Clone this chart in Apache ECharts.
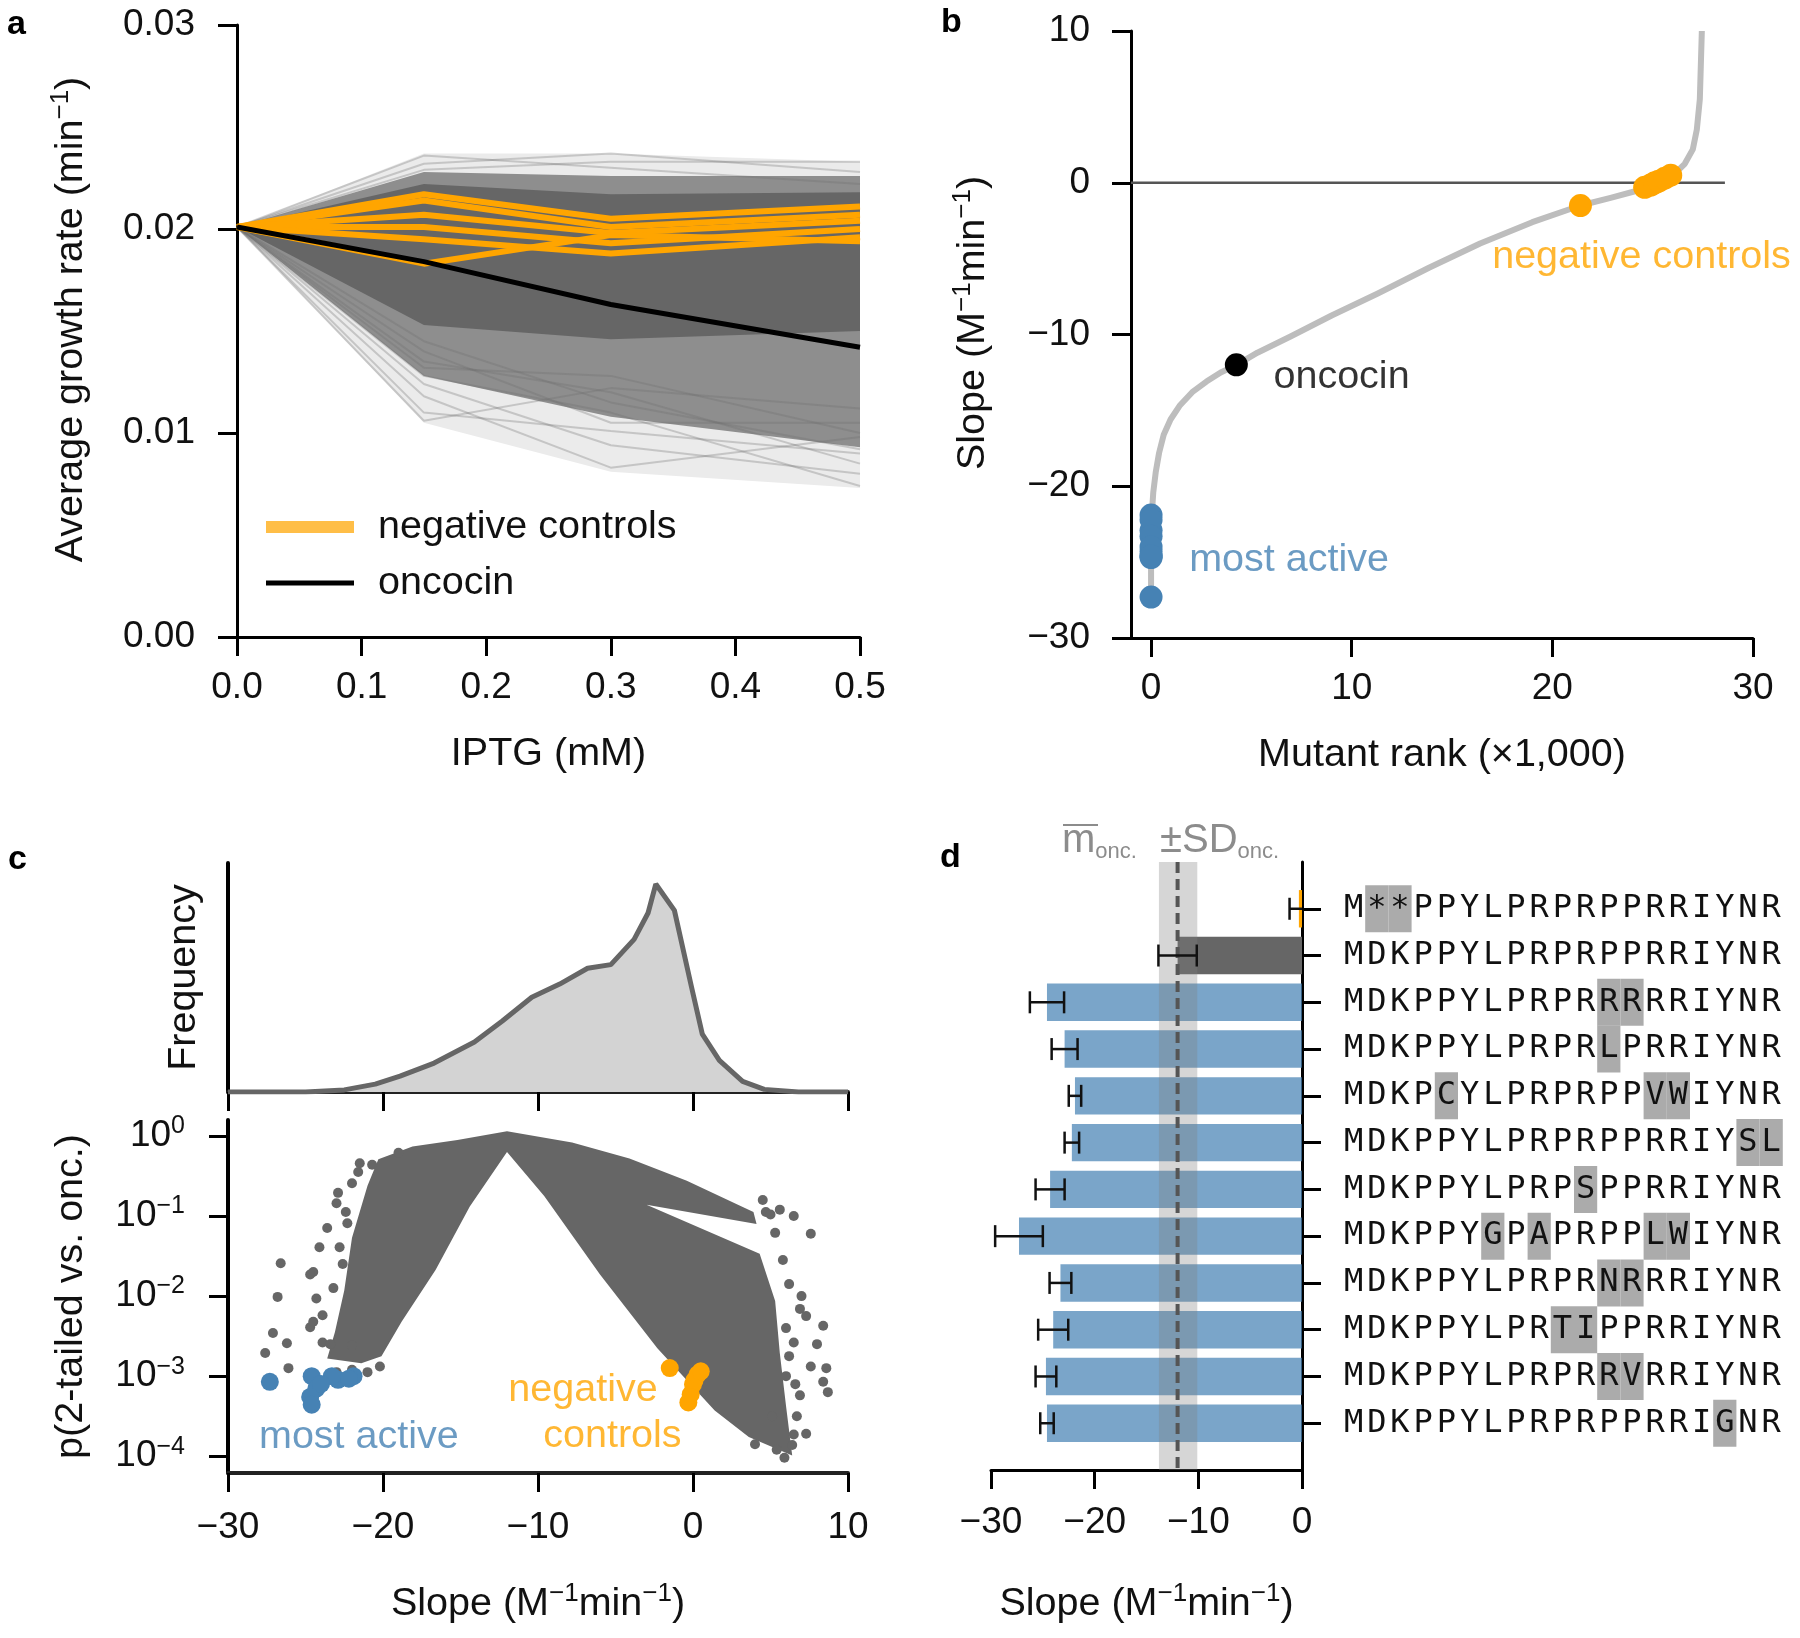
<!DOCTYPE html>
<html><head><meta charset="utf-8">
<script src="https://cdn.jsdelivr.net/npm/echarts@6/dist/echarts.min.js"></script>
<style>html,body{margin:0;padding:0;background:#fff}#chart{width:1800px;height:1638px}</style>
</head><body><div id="chart"></div>
<script>
// ================= DATA =================
// ---- panel a: growth rate vs IPTG ----
const IPTG = [0, 0.15, 0.3, 0.5];
const ONCOCIN_RATE = [0.0201, 0.0184, 0.0163, 0.0142];
const NEG_CTRL_RATES = [
  [0.0201, 0.0217, 0.0205, 0.0211],
  [0.0201, 0.0214, 0.0201, 0.0207],
  [0.0201, 0.0207, 0.0198, 0.0204],
  [0.0201, 0.0201, 0.0193, 0.0200],
  [0.0201, 0.0195, 0.0188, 0.0196],
  [0.0201, 0.0183, 0.0197, 0.0194]
];
// envelopes of the ~27,000 mutant traces (outer faint, middle, dense core)
const MUT_OUTER_HIGH = [0.0201, 0.0237, 0.0237, 0.0233];
const MUT_OUTER_LOW  = [0.0201, 0.0105, 0.0081, 0.0073];
const MUT_MID_HIGH   = [0.0201, 0.0228, 0.0226, 0.0226];
const MUT_MID_LOW    = [0.0201, 0.0128, 0.0108, 0.0093];
const MUT_CORE_HIGH  = [0.0201, 0.0222, 0.0217, 0.0218];
const MUT_CORE_LOW   = [0.0201, 0.0153, 0.0146, 0.0150];
const MUT_FAINT_TRACES = [
  [0.0201, 0.0236, 0.0230, 0.0222],
  [0.0201, 0.0232, 0.0237, 0.0228],
  [0.0201, 0.0229, 0.0233, 0.0233],
  [0.0201, 0.0106, 0.0122, 0.0112],
  [0.0201, 0.0110, 0.0101, 0.0090],
  [0.0201, 0.0118, 0.0083, 0.0098],
  [0.0201, 0.0124, 0.0094, 0.0080],
  [0.0201, 0.0128, 0.0110, 0.0074],
  [0.0201, 0.0135, 0.0120, 0.0085],
  [0.0201, 0.0140, 0.0105, 0.0105],
  [0.0201, 0.0132, 0.0128, 0.0100],
  [0.0201, 0.0145, 0.0115, 0.0092]
];

// ---- panel b: sorted slopes ----
const RANK_K = [0, 0, 0.03, 0.11, 0.23, 0.4, 0.63, 0.97, 1.42, 2.05, 2.76, 3.47, 4.27, 5.3, 7.0, 9.0, 11.3, 13.85, 16.4, 19.0, 21.4, 22.9, 24.4, 25.4, 26.1, 26.6, 27.0, 27.2, 27.35, 27.45];
const SLOPE_SORTED = [-27.3, -24.0, -22.0, -20.4, -19.1, -17.8, -16.6, -15.6, -14.7, -13.8, -13.1, -12.5, -12.0, -11.2, -10.1, -8.75, -7.3, -5.6, -4.0, -2.6, -1.5, -1.0, -0.46, 0.07, 0.6, 1.25, 2.2, 3.5, 5.5, 10.0];
const ONCOCIN_RANK = 4.25, ONCOCIN_SLOPE = -12.0;
const NEG_RANK = [21.4, 24.6, 24.9, 25.1, 25.3, 25.6, 25.9];
const NEG_SLOPE = [-1.5, -0.3, -0.15, 0.0, 0.1, 0.3, 0.5];
const ZERO_LINE_RANK = [-1, 28.6];

// ---- panel c: distribution and p-values ----
const KDE_SLOPE = [-30, -25, -22.5, -20.5, -18.9, -16.7, -14.1, -12.3, -10.4, -8.6, -6.8, -5.3, -3.8, -2.9, -2.4, -1.2, -0.1, 0.6, 1.7, 3.2, 4.6, 6.8, 10];
const KDE_FREQ  = [0, 0, 4, 15, 30, 55, 95, 135, 180, 205, 235, 242, 290, 340, 395, 345, 200, 110, 60, 20, 5, 0, 0];
// outlines of the dense point clouds [slope, log10 p]
const LEFT_WING_LOG = [[-12.0, 0.06], [-15.2, -0.05], [-18.1, -0.13], [-20.3, -0.29], [-21.0, -0.62], [-22.0, -1.27], [-22.5, -1.93], [-23.1, -2.45], [-23.6, -2.78], [-21.4, -2.84], [-20.1, -2.75], [-18.8, -2.32], [-16.6, -1.67], [-14.4, -0.88], [-12.0, -0.2]];
const RIGHT_WING_LOG = [[-12.0, 0.06], [-7.8, -0.08], [-4.1, -0.28], [-0.4, -0.56], [2.9, -0.86], [3.9, -0.95], [4.1, -1.1], [-3.0, -0.86], [4.3, -1.47], [5.3, -2.06], [5.6, -2.71], [6.0, -3.37], [6.4, -3.99], [3.6, -3.76], [1.4, -3.43], [-2.3, -2.65], [-6.0, -1.73], [-9.6, -0.75], [-12.0, -0.2]];
const OUTLIERS_LOG = [[-21.5, -0.34], [-20.7, -0.36], [-19.0, -0.21], [-22.0, -0.59], [-22.9, -0.71], [-23.0, -0.84], [-23.6, -1.15], [-22.3, -1.09], [-24.1, -1.39], [-22.8, -1.39], [-26.6, -1.59], [-26.8, -2.01], [-24.5, -1.70], [-24.3, -2.03], [-27.1, -2.46], [-26.2, -2.59], [-24.7, -2.39], [-23.9, -2.24], [-26.1, -2.9], [-27.6, -2.71], [-24.5, -2.32], [-23.9, -2.58], [-24.7, -1.73],
  [-22.6, -1.6], [-23.2, -1.9], [-22.0, -2.62], [-23.0, -2.95], [-22.0, -2.92], [-21.0, -2.95], [-20.2, -2.88], [-21.6, -0.45], [-22.4, -0.95], [-23.4, -2.6],
  [4.7, -0.95], [5.6, -0.92], [6.5, -1.0], [7.6, -1.22], [5.3, -1.21], [6.9, -2.16], [8.4, -2.37], [8.4, -3.07], [7.6, -2.88], [6.5, -2.58], [6.5, -3.73], [5.9, -4.02], [7.3, -2.25], [5.1, -3.5], [6.9, -3.24], [8.0, -2.6], [7.0, -2.0], [6.0, -3.0], [4.5, -0.8],
  [8.6, -2.9], [6.7, -3.5], [7.3, -3.72], [6.4, -3.86], [5.4, -3.92], [5.8, -1.55], [6.2, -1.85], [6.0, -2.4], [6.6, -3.1], [4.0, -3.85], [8.7, -3.2], [5.0, -0.98], [6.2, -2.75]];
const NEG_P = [1.26e-3, 4.7e-4, 5.9e-4, 7.9e-4, 8.9e-4, 1.05e-3, 1.15e-3];
const ACTIVE_P = [1.0e-3, 9.0e-4, 1.0e-3, 9.3e-4, 7.0e-4, 8.5e-4, 1.0e-3, 8.0e-4, 5.5e-4, 4.4e-4];
const LOG_TICKS = [1e-4, 1e-3, 1e-2, 1e-1, 1];

// ---- panel d: mutant sequences ----
const WILD_TYPE = 'MDKPPYLPRPRPPRRIYNR';
const SEQUENCES = ['M**PPYLPRPRPPRRIYNR', 'MDKPPYLPRPRPPRRIYNR', 'MDKPPYLPRPRRRRRIYNR', 'MDKPPYLPRPRLPRRIYNR', 'MDKPCYLPRPRPPVWIYNR', 'MDKPPYLPRPRPPRRIYSL', 'MDKPPYLPRPSPPRRIYNR', 'MDKPPYGPAPRPPLWIYNR', 'MDKPPYLPRPRNRRRIYNR', 'MDKPPYLPRTIPPRRIYNR', 'MDKPPYLPRPRRVRRIYNR', 'MDKPPYLPRPRPPRRIGNR'];
const ROW_GROUP = ['control', 'oncocin', 'active', 'active', 'active', 'active', 'active', 'active', 'active', 'active', 'active', 'active'];
const BAR_SLOPE = [-0.3, -12.0, -24.6, -22.9, -21.9, -22.2, -24.3, -27.3, -23.3, -24.0, -24.7, -24.6];
const BAR_ERR = [0.9, 1.85, 1.65, 1.25, 0.6, 0.7, 1.4, 2.3, 1.05, 1.45, 1.0, 0.65];
const ONC_MEAN = -12.0, ONC_SD_LOW = -13.8, ONC_SD_HIGH = -10.1;

// ================= STYLE =================
const FONT = "'Liberation Sans', Arial, Helvetica, sans-serif";
const TXT = '#111';
const BIG = 39.5, TICK = 37;
const ORANGE = '#ffa500', BLUE = '#4682b4', GRAYD = '#666666';
const GROUP_COLOR = {control: ORANGE, oncocin: '#666666', active: 'rgba(70,130,180,0.72)'};
const minus = v => String(v).replace('-', '\u2212');
const NAME_RICH = {
  t: {fontSize: BIG, fontFamily: FONT, color: TXT, lineHeight: 46},
  s: {fontSize: 26, fontFamily: FONT, color: TXT, lineHeight: 25, verticalAlign: 'top'}
};
const nameStyle = {fontSize: BIG, fontFamily: FONT, color: TXT, lineHeight: 46, rich: NAME_RICH};
const SLOPE_NAME = '{t|Slope (M}{s|\u22121}{t|min}{s|\u22121}{t|)}';

function merge(a, b) {
  const o = Object.assign({}, a);
  for (const k in b) {
    if (b[k] && typeof b[k] === 'object' && !Array.isArray(b[k]) && typeof b[k] !== 'function' && a[k] && typeof a[k] === 'object') o[k] = merge(a[k], b[k]);
    else o[k] = b[k];
  }
  return o;
}
const BASE_AX = {
  axisLine: {show: true, onZero: false, lineStyle: {color: '#000', width: 3}},
  axisTick: {show: true, length: 19, lineStyle: {color: '#000', width: 3}},
  axisLabel: {color: TXT, fontSize: TICK, fontFamily: FONT},
  splitLine: {show: false},
  nameLocation: 'middle',
  nameTextStyle: nameStyle
};
const ax = e => merge(BASE_AX, e);

// ================= SERIES HELPERS =================
function polySeries(xi, polys, color, z) {
  return {
    type: 'custom', xAxisIndex: xi, yAxisIndex: xi, z: z, silent: true, clip: true,
    data: polys.map(p => p[0]),
    renderItem: (params, api) => ({
      type: 'polygon',
      shape: {points: polys[params.dataIndex].map(v => api.coord(v))},
      style: {fill: color}
    })
  };
}
const bandPoly = (hi, lo) => IPTG.map((x, i) => [x, hi[i]]).concat(IPTG.map((x, i) => [x, lo[i]]).reverse());
const toP = arr => arr.map(v => [v[0], Math.pow(10, v[1])]);

const series = [];
// ---- panel a ----
series.push(polySeries(0, [bandPoly(MUT_OUTER_HIGH, MUT_OUTER_LOW)], '#ebebeb', 1));
MUT_FAINT_TRACES.forEach(t => series.push({
  type: 'line', name: 'mutant', xAxisIndex: 0, yAxisIndex: 0, symbol: 'none', z: 1, silent: true,
  data: IPTG.map((x, i) => [x, t[i]]), lineStyle: {color: 'rgba(110,110,110,0.3)', width: 2}
}));
series.push(polySeries(0, [bandPoly(MUT_MID_HIGH, MUT_MID_LOW)], '#8e8e8e', 1));
series.push(polySeries(0, [bandPoly(MUT_CORE_HIGH, MUT_CORE_LOW)], GRAYD, 1));
NEG_CTRL_RATES.forEach(t => series.push({
  type: 'line', name: 'negative controls', xAxisIndex: 0, yAxisIndex: 0, symbol: 'none', z: 3,
  data: IPTG.map((x, i) => [x, t[i]]), lineStyle: {color: ORANGE, width: 6}, itemStyle: {color: ORANGE}
}));
series.push({
  type: 'line', name: 'oncocin', xAxisIndex: 0, yAxisIndex: 0, symbol: 'none', z: 4,
  data: IPTG.map((x, i) => [x, ONCOCIN_RATE[i]]), lineStyle: {color: '#000', width: 5}, itemStyle: {color: '#000'}
});

// ---- panel b ----
series.push({type: 'line', xAxisIndex: 1, yAxisIndex: 1, symbol: 'none', z: 2, silent: true,
  data: ZERO_LINE_RANK.map(r => [r, 0]), lineStyle: {color: '#555', width: 2.5}});
series.push({type: 'line', xAxisIndex: 1, yAxisIndex: 1, symbol: 'none', z: 3, smooth: false, silent: true,
  data: RANK_K.map((r, i) => [r, SLOPE_SORTED[i]]), lineStyle: {color: '#bdbdbd', width: 6, join: 'round'}});
series.push({type: 'scatter', xAxisIndex: 1, yAxisIndex: 1, symbolSize: 23, z: 4, itemStyle: {color: BLUE, opacity: 1},
  data: BAR_SLOPE.filter((v, i) => ROW_GROUP[i] === 'active').map(v => [0, v])});
series.push({type: 'scatter', xAxisIndex: 1, yAxisIndex: 1, symbolSize: 23, z: 4, itemStyle: {color: ORANGE, opacity: 1},
  data: NEG_RANK.map((r, i) => [r, NEG_SLOPE[i]])});
series.push({type: 'scatter', xAxisIndex: 1, yAxisIndex: 1, symbolSize: 23, z: 4, itemStyle: {color: '#000', opacity: 1},
  data: [[ONCOCIN_RANK, ONCOCIN_SLOPE]]});
function annot(xi, pts) {
  return {type: 'scatter', xAxisIndex: xi, yAxisIndex: xi, symbolSize: 0, z: 6, silent: true,
    data: pts.map(p => ({value: [p[0], p[1]], label: {show: true, formatter: p[2], position: p[4] || 'right', distance: 0,
      color: p[3], fontSize: BIG, fontFamily: FONT}}))};
}
series.push(annot(1, [[6.1, -12.8, 'oncocin', '#000'], [17.0, -4.9, 'negative controls', ORANGE], [1.9, -24.9, 'most active', BLUE]]));

// ---- panel c ----
series.push({type: 'line', xAxisIndex: 2, yAxisIndex: 2, symbol: 'none', z: 2, silent: true,
  data: KDE_SLOPE.map((s, i) => [s, KDE_FREQ[i]]), lineStyle: {color: GRAYD, width: 5}, areaStyle: {color: '#d3d3d3', opacity: 1}});
series.push(polySeries(3, [toP(LEFT_WING_LOG), toP(RIGHT_WING_LOG)], GRAYD, 2));
series.push({type: 'scatter', xAxisIndex: 3, yAxisIndex: 3, symbolSize: 10, z: 2, silent: true, itemStyle: {color: GRAYD, opacity: 1},
  data: toP(OUTLIERS_LOG)});
series.push({type: 'scatter', xAxisIndex: 3, yAxisIndex: 3, symbolSize: 18, z: 4, itemStyle: {color: BLUE, opacity: 1},
  data: BAR_SLOPE.filter((v, i) => ROW_GROUP[i] === 'active').map((v, i) => [v, ACTIVE_P[i]])});
series.push({type: 'scatter', xAxisIndex: 3, yAxisIndex: 3, symbolSize: 18, z: 4, itemStyle: {color: ORANGE, opacity: 1},
  data: NEG_SLOPE.map((s, i) => [s, NEG_P[i]])});
series.push(annot(3, [[-28.0, 1.74e-4, 'most active', BLUE], [-7.1, 6.7e-4, 'negative', ORANGE, 'inside'], [-5.2, 1.8e-4, 'controls', ORANGE, 'inside']]));

// ---- panel d ----
const D_CATS = ['_top'].concat(SEQUENCES, ['_bottom']);
series.push({type: 'bar', xAxisIndex: 4, yAxisIndex: 4, z: 2, barCategoryGap: '20%', silent: true,
  data: ['-'].concat(BAR_SLOPE.map((v, i) => ({value: v, itemStyle: {color: GROUP_COLOR[ROW_GROUP[i]]}})), ['-'])});
series.push({type: 'custom', xAxisIndex: 4, yAxisIndex: 4, z: 3, silent: true, clip: true,
  data: [[ONC_SD_LOW, 0, ONC_SD_HIGH, D_CATS.length - 1, ONC_MEAN]],
  renderItem: (params, api) => {
    const a = api.coord([api.value(0), api.value(1)]);
    const b = api.coord([api.value(2), api.value(3)]);
    const m1 = api.coord([api.value(4), api.value(1)]);
    const m2 = api.coord([api.value(4), api.value(3)]);
    return {type: 'group', children: [
      {type: 'rect', shape: {x: Math.min(a[0], b[0]), y: Math.min(a[1], b[1]), width: Math.abs(b[0] - a[0]), height: Math.abs(b[1] - a[1])},
        style: {fill: 'rgba(128,128,128,0.32)'}},
      {type: 'line', shape: {x1: m1[0], y1: m1[1], x2: m2[0], y2: m2[1]}, style: {stroke: '#555', lineWidth: 4, lineDash: [11, 6]}}
    ]};
  }});
series.push({type: 'custom', xAxisIndex: 4, yAxisIndex: 4, z: 5, silent: true, clip: true,
  data: BAR_SLOPE.map((v, i) => [v, i + 1, BAR_ERR[i]]),
  renderItem: (params, api) => {
    const v = api.value(0), r = api.value(1), e = api.value(2);
    const p1 = api.coord([v - e, r]), p2 = api.coord([v + e, r]);
    const h = 11, st = {stroke: '#111', lineWidth: 2.5};
    return {type: 'group', children: [
      {type: 'line', shape: {x1: p1[0], y1: p1[1], x2: p2[0], y2: p2[1]}, style: st},
      {type: 'line', shape: {x1: p1[0], y1: p1[1] - h, x2: p1[0], y2: p1[1] + h}, style: st},
      {type: 'line', shape: {x1: p2[0], y1: p2[1] - h, x2: p2[0], y2: p2[1] + h}, style: st}
    ]};
  }});

const SEQ_FONT = "'DejaVu Sans Mono', monospace";
const seqRich = {
  n: {fontFamily: SEQ_FONT, fontSize: 32, color: TXT, width: 23.2, align: 'center', height: 47, lineHeight: 47},
  h: {fontFamily: SEQ_FONT, fontSize: 32, color: TXT, width: 23.2, align: 'center', height: 47, lineHeight: 47, backgroundColor: '#ababab'}
};
function seqLabel(seq) {
  if (SEQUENCES.indexOf(seq) < 0) return '';
  return seq.split('').map((ch, i) => '{' + (ch !== WILD_TYPE[i] ? 'h' : 'n') + '|' + ch + '}').join('');
}

const logRich = {
  b: {fontSize: TICK, fontFamily: FONT, color: TXT, lineHeight: 44},
  s: {fontSize: 25, fontFamily: FONT, color: TXT, lineHeight: 25, verticalAlign: 'top'}
};
const HDR = {
  m: {fontSize: 40, fontFamily: FONT, fill: '#8c8c8c', lineHeight: 44},
  s: {fontSize: 22, fontFamily: FONT, fill: '#8c8c8c', lineHeight: 10, verticalAlign: 'bottom'}
};

const option = {
  animation: false,
  backgroundColor: '#fff',
  textStyle: {fontFamily: FONT},
  grid: [
    {left: 237, top: 25, width: 623, height: 612},
    {left: 1131, top: 31, width: 622, height: 607},
    {left: 228, top: 863, width: 620, height: 229},
    {left: 228, top: 1120, width: 620, height: 353},
    {left: 991, top: 862, width: 311, height: 608}
  ],
  xAxis: [
    ax({gridIndex: 0, type: 'value', min: 0, max: 0.5, interval: 0.1, name: 'IPTG (mM)', nameGap: 94,
      axisLabel: {margin: 32, formatter: v => v.toFixed(1)}}),
    ax({gridIndex: 1, type: 'value', min: -1, max: 30, name: 'Mutant rank (\u00d71,000)', nameGap: 94,
      axisTick: {customValues: [0, 10, 20, 30]}, axisLabel: {margin: 32, customValues: [0, 10, 20, 30]}}),
    ax({gridIndex: 2, type: 'value', min: -30, max: 10, interval: 10,
      axisLine: {lineStyle: {color: '#222', width: 4}}, axisLabel: {show: false}}),
    ax({gridIndex: 3, type: 'value', min: -30, max: 10, interval: 10, name: SLOPE_NAME, nameGap: 108,
      axisLine: {lineStyle: {color: '#222', width: 4}}, axisLabel: {margin: 36, formatter: minus}}),
    ax({gridIndex: 4, type: 'value', min: -30, max: 0, interval: 10, name: SLOPE_NAME, nameGap: 111,
      axisLabel: {margin: 34, formatter: minus}})
  ],
  yAxis: [
    ax({gridIndex: 0, type: 'value', min: 0, max: 0.03, interval: 0.01, nameGap: 143,
      nameTextStyle: {padding: [0, 0, 0, 23]},
      name: '{t|Average growth rate (min}{s|\u22121}{t|)}', axisLabel: {margin: 42, formatter: v => v.toFixed(2)}}),
    ax({gridIndex: 1, type: 'value', min: -30, max: 10, interval: 10, nameGap: 135, name: SLOPE_NAME,
      nameTextStyle: {padding: [0, 0, 0, 23]},
      axisLabel: {margin: 41, formatter: minus}}),
    ax({gridIndex: 2, type: 'value', min: 0, max: 435, name: 'Frequency', nameGap: 21,
      axisTick: {show: false}, axisLabel: {show: false}, axisLine: {lineStyle: {width: 4}}}),
    ax({gridIndex: 3, type: 'log', logBase: 10, min: Math.pow(10, -4.21), max: Math.pow(10, 0.2), name: 'p(2-tailed vs. onc.)', nameGap: 134,
      axisLine: {lineStyle: {width: 4}},
      axisTick: {customValues: LOG_TICKS},
      axisLabel: {margin: 43, customValues: LOG_TICKS, rich: logRich,
        formatter: v => '{b|10}{s|' + minus(Math.round(Math.log10(v))) + '}'}}),
    ax({gridIndex: 4, type: 'category', data: D_CATS, position: 'right', inverse: true, boundaryGap: false,
      axisTick: {interval: (i) => i > 0 && i < D_CATS.length - 1},
      axisLabel: {interval: 0, margin: 40, formatter: seqLabel, rich: seqRich}})
  ],
  legend: {
    left: 261, top: 500, orient: 'vertical', itemWidth: 88, itemHeight: 12, itemGap: 12,
    selectedMode: false, symbolKeepAspect: true,
    textStyle: {fontSize: BIG, fontFamily: FONT, color: TXT, lineHeight: 44, padding: [0, 0, 0, 19]},
    data: [
      {name: 'negative controls', icon: 'rect', itemStyle: {color: 'rgba(255,165,0,0.72)'}},
      {name: 'oncocin', icon: 'path://M0,0L88,0L88,5L0,5Z', itemStyle: {color: '#000'}}
    ]
  },
  graphic: [
    {type: 'text', left: 7, top: 8, style: {text: 'a', font: 'bold 34px ' + FONT, fill: '#000'}},
    {type: 'text', left: 941, top: 6, style: {text: 'b', font: 'bold 34px ' + FONT, fill: '#000'}},
    {type: 'text', left: 8, top: 843, style: {text: 'c', font: 'bold 34px ' + FONT, fill: '#000'}},
    {type: 'text', left: 940, top: 841, style: {text: 'd', font: 'bold 34px ' + FONT, fill: '#000'}},
    {type: 'text', x: 1062, y: 819, style: {text: '{m|m}{s|onc.}', fill: '#8c8c8c', rich: HDR}},
    {type: 'line', shape: {x1: 1063, y1: 825, x2: 1098, y2: 825}, style: {stroke: '#8c8c8c', lineWidth: 2}},
    {type: 'text', x: 1160, y: 819, style: {text: '{m|\u00b1SD}{s|onc.}', fill: '#8c8c8c', rich: HDR}}
  ],
  series: series
};

const chart = echarts.init(document.getElementById('chart'), null, {renderer: 'canvas'});
chart.setOption(option);
</script>
</body></html>
